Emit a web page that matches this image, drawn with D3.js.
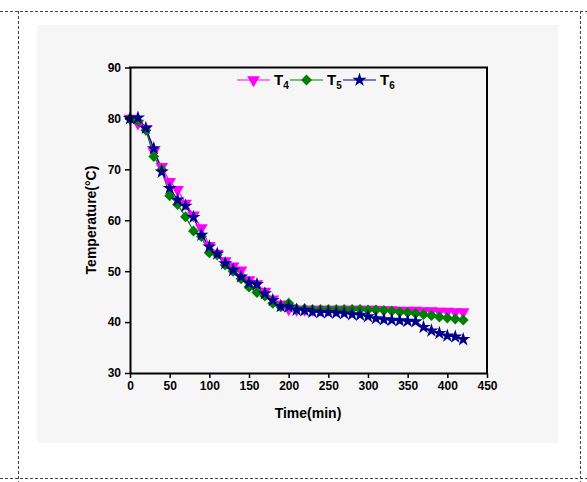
<!DOCTYPE html>
<html><head><meta charset="utf-8">
<script src="https://cdn.jsdelivr.net/npm/d3@7"></script>
<style>body{margin:0;background:#fff}svg{display:block}</style>
</head><body>
<script>
const times = d3.range(0, 421, 10);
const T4 = [80,79,78,73.5,70.5,67.6,66.0,63.3,61.0,58.5,55.0,53.5,52.0,51.0,50.2,48.3,47.5,46.0,44.5,43.5,42.6,
  42.5,42.5,42.5,42.5,42.5,42.5,42.5,42.5,42.5,42.5,42.5,42.4,42.4,42.3,42.3,42.3,42.2,42.2,42.1,42.1,42.0,42.0];
const T5 = [80,79.5,77.7,72.5,69.9,64.8,63.1,60.7,57.9,56.8,53.6,53.2,51.2,50.0,48.5,46.9,45.8,45.1,43.7,43.0,43.7,
  42.6,42.6,42.5,42.5,42.5,42.5,42.5,42.5,42.5,42.4,42.4,42.3,42.2,42.0,41.9,41.7,41.5,41.3,41.0,40.8,40.6,40.4];
const T6 = [80,80.1,78.1,74.1,69.5,66.3,64.0,62.8,60.6,57.1,54.8,53.4,51.5,50.2,48.9,47.7,47.4,45.6,44.3,43.1,43.0,
  42.4,42.3,42.0,41.9,41.9,41.8,41.7,41.5,41.4,41.1,40.7,40.5,40.4,40.3,40.2,40.1,39.0,38.3,37.8,37.3,37.1,36.6];
const xTicks = [0,50,100,150,200,250,300,350,400,450];
const yTicks = [30,40,50,60,70,80,90];
const seriesNames = ["4","5","6"];
const seriesColors = ["#ff00ff","#008000","#00008b"];
const seriesData = [T4, T5, T6];
const seriesSymbols = [d3.symbolTriangle, d3.symbolSquare, d3.symbolStar];
const seriesRot = [180, 45, 0];
const seriesSize = [70, 60, 62];

const W = 587, H = 482;
const svg = d3.select("body").append("svg").attr("width", W).attr("height", H);

// dashed frame
const dash = {stroke:"#444", "stroke-width":1, "stroke-dasharray":"3,2"};
function dline(x1,y1,x2,y2){const l=svg.append("line").attr("x1",x1).attr("y1",y1).attr("x2",x2).attr("y2",y2);for(const k in dash)l.attr(k,dash[k]);}
dline(0,11.5,587,11.5); dline(0,478.5,587,478.5); dline(18.5,11,18.5,482); dline(580.5,11,580.5,482);

// light panel
svg.append("rect").attr("x",37).attr("y",25).attr("width",521).attr("height",418).attr("fill","#f6f6f6");

const x = d3.scaleLinear().domain([0,450]).range([130,487]);
const y = d3.scaleLinear().domain([30,90]).range([373,67.5]);

const font = "Liberation Sans, Arial, sans-serif";

// lines and markers
seriesData.forEach((vals,i)=>{
  const pts = times.map((t,j)=>[t, vals[j]]);
  svg.append("path").datum(pts)
    .attr("fill","none").attr("stroke",seriesColors[i]).attr("stroke-width",1.2)
    .attr("d", d3.line().x(d=>x(d[0])).y(d=>y(d[1])));
});
seriesData.forEach((vals,i)=>{
  const pts = times.map((t,j)=>[t, vals[j]]);
  const sym = d3.symbol().type(seriesSymbols[i]).size(seriesSize[i]);
  svg.append("g").selectAll("path").data(pts).join("path")
    .attr("d", sym)
    .attr("transform", d=>`translate(${x(d[0])},${y(d[1])}) rotate(${seriesRot[i]})`)
    .attr("fill", seriesColors[i]);
});

// axes
const xAxis = svg.append("g").attr("transform","translate(0,373)")
  .call(d3.axisBottom(x).tickValues(xTicks).tickSize(5).tickPadding(3).tickSizeOuter(0));
const yAxis = svg.append("g").attr("transform","translate(130,0)")
  .call(d3.axisLeft(y).tickValues(yTicks).tickSize(5).tickPadding(4).tickSizeOuter(0));
[xAxis,yAxis].forEach(a=>{
  a.select(".domain").attr("stroke","#000").attr("stroke-width",2);
  a.selectAll(".tick line").attr("stroke","#000").attr("stroke-width",1.5);
  a.selectAll(".tick text").attr("font-family",font).attr("font-weight","bold").attr("font-size",12).attr("fill","#000");
});
// top and right frame
svg.append("line").attr("x1",129).attr("x2",488).attr("y1",67.5).attr("y2",67.5).attr("stroke","#000").attr("stroke-width",2);
svg.append("line").attr("x1",487).attr("x2",487).attr("y1",67).attr("y2",374).attr("stroke","#000").attr("stroke-width",2);

// axis titles
svg.append("text").attr("x",308).attr("y",418).attr("text-anchor","middle")
  .attr("font-family",font).attr("font-weight","bold").attr("font-size",14).text("Time(min)");
svg.append("text").attr("transform","translate(96,220) rotate(-90)").attr("text-anchor","middle")
  .attr("font-family",font).attr("font-weight","bold").attr("font-size",14).text("Temperature(°C)");

// legend
const legX = [237, 290, 343];
seriesNames.forEach((n,i)=>{
  const g = svg.append("g");
  const lx = legX[i], ly = 80;
  g.append("line").attr("x1",lx).attr("x2",lx+33).attr("y1",ly).attr("y2",ly).attr("stroke",seriesColors[i]).attr("stroke-width",1.2);
  g.append("path").attr("d", d3.symbol().type(seriesSymbols[i]).size(seriesSize[i])())
    .attr("transform",`translate(${lx+16.5},${ly}) rotate(${seriesRot[i]})`).attr("fill",seriesColors[i]);
  const t = g.append("text").attr("x",lx+37).attr("y",ly+5).attr("font-family",font).attr("font-weight","bold").attr("font-size",15).attr("fill","#000");
  t.append("tspan").text("T");
  t.append("tspan").attr("dy",4).attr("font-size",10).text(n);
});
</script>
</body></html>
